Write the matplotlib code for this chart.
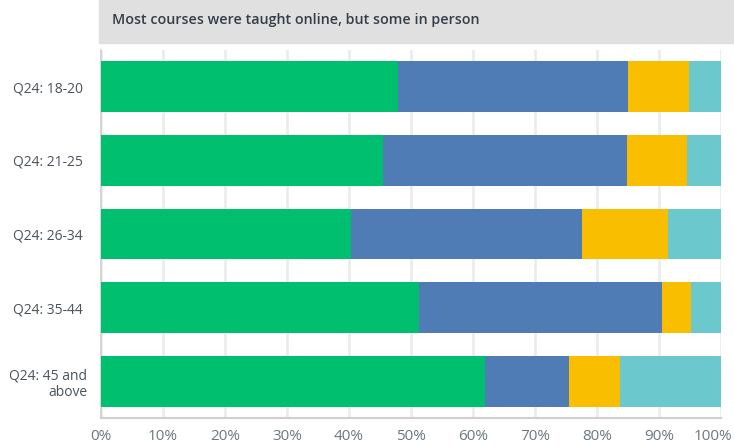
import matplotlib
matplotlib.use("Agg")
import matplotlib.pyplot as plt
import matplotlib.transforms as mtransforms
import numpy as np

# ── Data (share of courses per age group, %) ────────────────────────────────
groups = ["Q24: 18-20", "Q24: 21-25", "Q24: 26-34", "Q24: 35-44", "Q24: 45 and\nabove"]
series_names = ["Online", "Hybrid", "In person", "Other"]
online = [47.9, 45.5, 40.4, 51.3, 61.9]
hybrid = [37.1, 39.3, 37.2, 39.2, 13.6]
in_person = [9.8, 9.7, 13.8, 4.7, 8.2]
other = [5.2, 5.5, 8.6, 4.8, 16.3]
colors = ["#00bf6f", "#507cb6", "#f9be00", "#6bc8cd"]

title = "Most courses were taught online, but some in person"

plt.rcParams["font.family"] = ["Open Sans", "DejaVu Sans"]

W, H = 734, 447
fig = plt.figure(figsize=(W / 100, H / 100), dpi=100)
ax = fig.add_axes([101 / W, 1 - 418 / H, 620 / W, 368 / H])

y = np.arange(len(groups))
left = np.zeros(len(groups))
for name, vals, c in zip(series_names, [online, hybrid, in_person, other], colors):
    ax.barh(y, vals, left=left, height=0.69, color=c, label=name, zorder=3)
    left += np.array(vals)

ax.set_xlim(0, 100)
ax.set_ylim(len(groups) - 0.5, -0.5)
ax.set_xticks(np.arange(0, 101, 10))
ax.set_xticklabels([f"{v}%" for v in range(0, 101, 10)])
ax.set_yticks(y)
ax.set_yticklabels(groups, ha="center", multialignment="right")
ax.tick_params(axis="y", length=0, pad=38, labelsize=10, labelcolor="#4a545c")
ax.tick_params(axis="x", length=0, pad=8, labelsize=11, labelcolor="#6b787f")

# last x label is pulled inside the figure, like the original
last = ax.get_xticklabels()[-1]
last.set_transform(last.get_transform() +
                   mtransforms.ScaledTranslation(-8 / 100, 0, fig.dpi_scale_trans))

ax.grid(axis="x", color="#ececec", linewidth=2, zorder=0)
ax.grid(axis="y", visible=False)
for s in ["top", "right"]:
    ax.spines[s].set_visible(False)
ax.spines["left"].set_color("#d0d0d0")
ax.spines["bottom"].set_color("#cfcfcf")
ax.spines["left"].set_linewidth(1.2)
ax.spines["bottom"].set_linewidth(1.5)

# title banner
banner = plt.Rectangle((99 / W, 1 - 43 / H), 1 - 99 / W, 43 / H,
                       transform=fig.transFigure, color="#e0e0e0", zorder=0)
fig.patches.append(banner)
fig.text(112 / W, 1 - 20 / H, title, fontsize=10.3, fontweight="semibold",
         color="#333e48", va="center", ha="left")

fig.savefig("out.png", dpi=100)
